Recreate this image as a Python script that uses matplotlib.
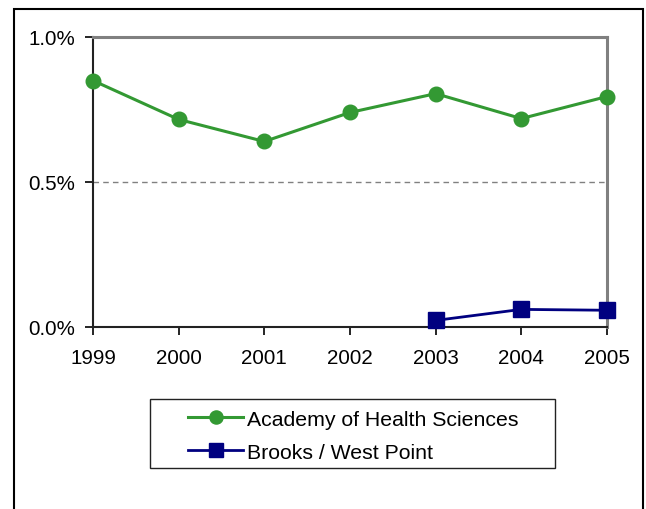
import matplotlib
matplotlib.use("Agg")
import matplotlib.pyplot as plt
from matplotlib.patches import Rectangle
from matplotlib.ticker import FuncFormatter

plt.rcParams['font.family'] = ['Liberation Sans', 'DejaVu Sans']

# Data (percent)
years = [1999, 2000, 2001, 2002, 2003, 2004, 2005]
academy = [0.848, 0.714, 0.638, 0.738, 0.803, 0.717, 0.793]
brooks_years = [2003, 2004, 2005]
brooks = [0.021, 0.059, 0.056]
y_ticks = [0.0, 0.5, 1.0]

fig = plt.figure(figsize=(6.46, 5.10), dpi=100)
ax = fig.add_axes([93 / 646, 1 - 327.5 / 510, 514 / 646, 290 / 510])

ax.plot(years, academy, color='#339933', linewidth=2.2, marker='o', markersize=10.5,
        label='Academy of Health Sciences', clip_on=False, zorder=3)
ax.plot(brooks_years, brooks, color='#000080', linewidth=2.0, marker='s', markersize=11,
        label='Brooks / West Point', clip_on=False, zorder=3)

ax.set_xlim(1999, 2005)
ax.set_ylim(0, 1.0)
ax.set_xticks(years)
ax.set_yticks(y_ticks)
ax.yaxis.set_major_formatter(FuncFormatter(lambda v, p: f"{v:.1f}%"))
ax.tick_params(axis='both', direction='out', length=6, width=1.2, color='black',
               labelsize=14.8, pad=7)
ax.tick_params(axis='x', pad=9.5)

# dashed gridline at 0.5%
ax.axhline(0.5, color='#808080', linestyle=(0, (4, 3)), linewidth=1.0, zorder=1)

for side in ['left', 'bottom']:
    ax.spines[side].set_color('#222222')
    ax.spines[side].set_linewidth(1.5)
for side in ['top', 'right']:
    ax.spines[side].set_color('#808080')
    ax.spines[side].set_linewidth(2.2)

# legend with a hand drawn frame
leg = fig.legend(loc='upper left', bbox_to_anchor=(171 / 646, 1 - 393.5 / 510),
                 frameon=False, fontsize=15.3, handlelength=2.6, handletextpad=0.18,
                 labelspacing=0.67, borderpad=0.3, markerscale=0.9)
fig.add_artist(Rectangle((150 / 646, 1 - 469 / 510), 405 / 646, 69 / 510,
                         transform=fig.transFigure, fill=False, edgecolor='#222222',
                         linewidth=1.0))

# outer chart border (runs past the bottom of the picture)
fig.add_artist(Rectangle((14 / 646, -0.05), 629 / 646, 1.05 - 9.5 / 510,
                         transform=fig.transFigure, fill=False, edgecolor='black',
                         linewidth=1.5, clip_on=False))

fig.savefig('out.png', dpi=100)
